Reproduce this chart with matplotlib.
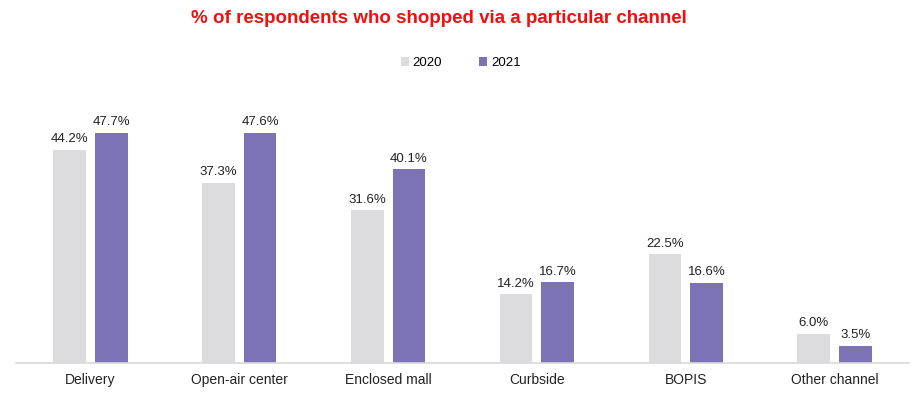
import numpy as np
import matplotlib.pyplot as plt

plt.rcParams['font.family'] = ['Liberation Sans', 'DejaVu Sans']

# Data
channels = ['Delivery', 'Open-air center', 'Enclosed mall', 'Curbside', 'BOPIS', 'Other channel']
years = ['2020', '2021']
share_2020 = [44.2, 37.3, 31.6, 14.2, 22.5, 6.0]
share_2021 = [47.7, 47.6, 40.1, 16.7, 16.6, 3.5]

col_2020 = '#DCDCDE'
col_2021 = '#7B73B5'

fig = plt.figure(figsize=(9.18, 3.95), dpi=100)
ax = fig.add_axes([16 / 918, 1 - 363 / 395, 893 / 918, 0.672])

x = np.arange(len(channels))
w = 0.22
off = 0.14
b1 = ax.bar(x - off, share_2020, w, color=col_2020, label=years[0])
b2 = ax.bar(x + off, share_2021, w, color=col_2021, label=years[1])

for bars in (b1, b2):
    for b in bars:
        ax.text(b.get_x() + b.get_width() / 2, b.get_height() + 1.0,
                f'{b.get_height():.1f}%', ha='center', va='bottom',
                fontsize=9.5, color='#222222')

ax.set_xlim(-0.5, len(channels) - 0.5)
ax.set_ylim(0, 55)
ax.set_xticks(x)
ax.set_xticklabels(channels, fontsize=10, color='#222222')
ax.tick_params(axis='x', length=0, pad=7)
ax.set_yticks([])
for s in ['top', 'right', 'left']:
    ax.spines[s].set_visible(False)
ax.spines['bottom'].set_color('#D9D9D9')
ax.spines['bottom'].set_linewidth(1.2)

fig.text(0.478, 0.952, '% of respondents who shopped via a particular channel',
         ha='center', va='center', fontsize=13.5, fontweight='bold', color='#EE1111')

fig.legend(loc='center', bbox_to_anchor=(0.502, 0.84), ncol=2, frameon=False,
           fontsize=9.5, handlelength=0.6, handleheight=0.6, columnspacing=2.8,
           handletextpad=0.3)

fig.savefig('out.png', dpi=100)
